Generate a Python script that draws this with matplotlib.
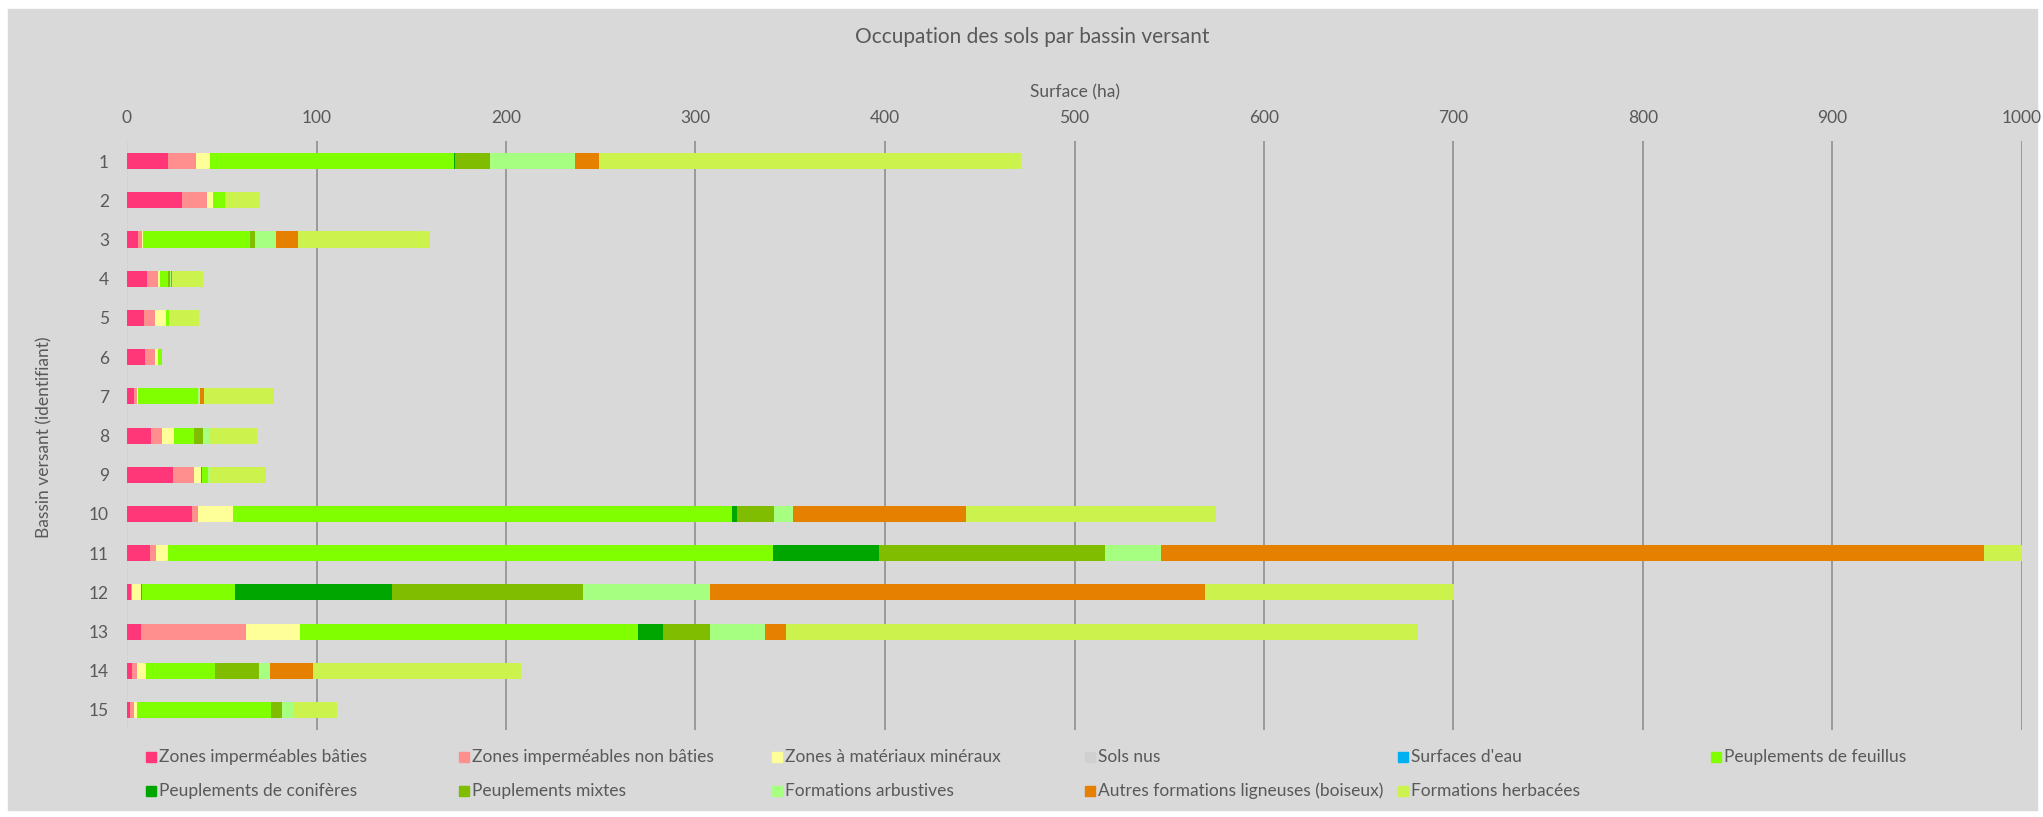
import numpy as np
import matplotlib.pyplot as plt
from matplotlib.patches import Rectangle

plt.rcParams['font.family'] = ['Lato', 'DejaVu Sans']

basins = list(range(1, 16))

categories = ["Zones imperméables bâties", "Zones imperméables non bâties",
              "Zones à matériaux minéraux", "Sols nus", "Surfaces d'eau",
              "Peuplements de feuillus", "Peuplements de conifères",
              "Peuplements mixtes", "Formations arbustives",
              "Autres formations ligneuses (boiseux)", "Formations herbacées"]

colors = ['#FF3778', '#FF8F8F', '#FFFF99', '#D0D0D0', '#00B0F0', '#80FF00',
          '#00A600', '#80BD00', '#A6FF80', '#E68000', '#CCF24D']

# surfaces (ha) per basin 1..15
batie = [21.5, 28.9, 6.0, 10.8, 8.8, 9.3, 3.5, 12.9, 24.2, 34.2, 12.0, 1.9, 7.2, 2.5, 1.4]
non_batie = [14.8, 13.4, 2.1, 5.4, 6.2, 5.7, 1.9, 5.8, 11.3, 3.5, 3.5, 0.9, 55.6, 3.0, 2.1]
mineraux = [7.4, 3.0, 0.4, 1.1, 5.6, 1.5, 0.5, 6.0, 3.5, 18.2, 6.0, 4.4, 28.7, 4.7, 2.0]
sols_nus = [0, 0, 0, 0, 0, 0, 0, 0, 0, 0, 0, 0, 0, 0, 0]
eau = [0, 0, 0, 0, 0, 0, 0, 0, 0.5, 0, 0, 0.5, 0, 0, 0]
feuillus = [128.6, 6.2, 56.4, 4.2, 1.4, 1.8, 31.7, 10.8, 3.0, 263.5, 319.4, 49.3, 177.9, 36.2, 70.5]
coniferes = [0.6, 0, 0, 0, 0, 0, 0, 0, 0, 2.6, 56.1, 82.8, 13.7, 0, 0]
mixtes = [18.5, 0.2, 2.8, 1.3, 0, 0, 0, 4.8, 0, 19.4, 119.0, 100.8, 24.4, 23.4, 6.0]
arbustives = [45.2, 0.4, 10.8, 0.3, 0, 0.3, 1.1, 2.8, 1.1, 9.9, 29.7, 67.2, 29.3, 5.7, 5.7]
ligneuses = [12.3, 0, 11.5, 0.7, 0, 0, 1.9, 0, 0, 91.2, 434.2, 261.3, 11.0, 22.6, 0]
herbacees = [223.1, 18.3, 69.8, 16.1, 15.8, 0, 36.9, 25.4, 29.8, 132.2, 21.0, 131.0, 333.5, 109.7, 22.9]

series = [batie, non_batie, mineraux, sols_nus, eau, feuillus, coniferes,
          mixtes, arbustives, ligneuses, herbacees]

W, H = 2043, 817
fig = plt.figure(figsize=(W / 100, H / 100), dpi=100, facecolor='white')
fig.patches.append(Rectangle((8 / W, 7 / H), (2037 - 8) / W, (H - 16) / H,
                             transform=fig.transFigure, color='#D9D9D9', zorder=-10))

ax = fig.add_axes([127 / W, 1 - 729.6 / H, (2022 - 127) / W, (729.6 - 141.5) / H])
ax.set_facecolor('none')

left = np.zeros(len(basins))
for vals, c in zip(series, colors):
    ax.barh(basins, vals, left=left, height=0.41, color=c, edgecolor='none', zorder=3)
    left += np.array(vals)

ax.set_xlim(0, 1000)
ax.set_ylim(15.5, 0.5)
ax.set_xticks(np.arange(0, 1001, 100))
ax.set_yticks(basins)
ax.xaxis.tick_top()
ax.tick_params(axis='both', length=0, labelsize=12.5, labelcolor='#595959')
ax.tick_params(axis='x', pad=11.5)
ax.tick_params(axis='y', pad=13)
ax.grid(axis='x', color='#898989', linewidth=1.1, zorder=1)
ax.xaxis.get_gridlines()[0].set_color('#D2D2D2')
for s in ax.spines.values():
    s.set_visible(False)

txt = '#595959'
fig.text(1032 / W, 1 - 37 / H, "Occupation des sols par bassin versant",
         ha='center', va='center', fontsize=15, color=txt)
fig.text(1075 / W, 1 - 92 / H, "Surface (ha)", ha='center', va='center',
         fontsize=12.5, color=txt)
fig.text(44 / W, 1 - 437 / H, "Bassin versant (identifiant)", ha='center',
         va='center', rotation=90, fontsize=12.5, color=txt)

# legend, 6 columns
col_x = [146, 459, 772, 1085, 1398, 1711]
row_y = [757, 791]
for i, (lab, c) in enumerate(zip(categories, colors)):
    r, k = divmod(i, 6)
    x0, y0 = col_x[k], row_y[r]
    fig.patches.append(Rectangle((x0 / W, 1 - (y0 + 5) / H), 10 / W, 10 / H,
                                 transform=fig.transFigure, color=c))
    fig.text((x0 + 13) / W, 1 - y0 / H, lab, ha='left', va='center',
             fontsize=12.5, color=txt)

fig.savefig('out.png', dpi=100, facecolor='white')
